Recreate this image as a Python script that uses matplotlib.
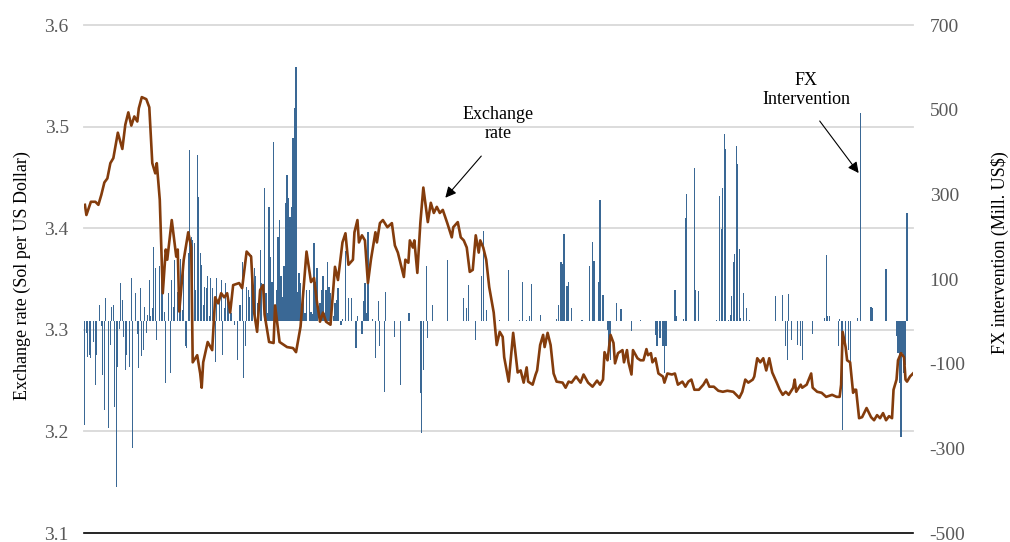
import matplotlib
matplotlib.use("Agg")
import matplotlib.pyplot as plt

# ---------------- data ----------------
rate_day = [0, 1, 4, 7, 9, 11, 13, 15, 17, 19, 22, 25, 27, 29, 31, 33, 35, 36, 38, 41, 43, 45, 47, 48, 50,
            52, 54, 55, 58, 61, 62, 63, 66, 69, 71, 72, 75, 77, 78, 79, 82, 85, 87, 89, 91, 93, 95, 97, 99,
            103, 105, 108, 111, 113, 115, 117, 119, 120, 123, 126, 127, 130, 135, 139, 141, 144, 148, 151,
            153, 155, 157, 159, 161, 164, 167, 169, 172, 174, 176, 179, 180, 182, 183, 185, 187, 189, 191,
            194, 195, 197, 199, 202, 205, 207, 209, 211, 213, 214, 216, 217, 219, 220, 222, 224, 226, 229,
            231, 233, 235, 237, 239, 242, 245, 246, 249, 251, 253, 255, 257, 259, 261, 263, 264, 266, 268,
            270, 273, 275, 277, 279, 280, 283, 286, 289, 291, 293, 295, 296, 299, 301, 302, 304, 306, 307,
            309, 311, 313, 315, 319, 321, 323, 325, 328, 331, 333, 336, 339, 342, 344, 346, 347, 349, 351,
            353, 354, 356, 359, 360, 362, 363, 365, 366, 369, 371, 373, 375, 376, 378, 379, 381, 383, 386,
            387, 389, 392, 394, 396, 399, 401, 403, 405, 407, 410, 413, 415, 417, 420, 423, 426, 429, 433,
            435, 437, 439, 441, 443, 446, 447, 449, 451, 453, 455, 457, 459, 462, 464, 466, 468, 470, 473,
            474, 475, 478, 479, 482, 485, 486, 489, 492, 495, 499, 502, 504, 505, 506, 508, 509, 511, 513,
            514, 515, 517, 519, 522, 525, 527, 529, 531, 533, 535, 537, 539, 540, 542, 543, 545, 547, 548,
            549, 551, 553]
rate_value = [3.423, 3.413, 3.426, 3.426, 3.423, 3.433, 3.445, 3.449, 3.464, 3.469, 3.494, 3.478, 3.502,
              3.514, 3.501, 3.510, 3.505, 3.518, 3.529, 3.527, 3.519, 3.464, 3.454, 3.464, 3.428, 3.336,
              3.379, 3.369, 3.408, 3.372, 3.379, 3.318, 3.369, 3.396, 3.381, 3.268, 3.275, 3.257, 3.243,
              3.268, 3.288, 3.280, 3.332, 3.326, 3.336, 3.332, 3.336, 3.317, 3.344, 3.346, 3.341, 3.377,
              3.372, 3.317, 3.298, 3.339, 3.344, 3.315, 3.288, 3.287, 3.324, 3.288, 3.283, 3.282, 3.278,
              3.303, 3.377, 3.347, 3.351, 3.327, 3.308, 3.317, 3.308, 3.305, 3.362, 3.349, 3.386, 3.395,
              3.364, 3.369, 3.396, 3.408, 3.386, 3.393, 3.388, 3.346, 3.369, 3.396, 3.386, 3.405, 3.408,
              3.401, 3.405, 3.383, 3.376, 3.364, 3.352, 3.369, 3.366, 3.388, 3.381, 3.388, 3.356, 3.405,
              3.440, 3.406, 3.425, 3.415, 3.421, 3.415, 3.418, 3.405, 3.391, 3.401, 3.406, 3.391, 3.388,
              3.381, 3.357, 3.359, 3.393, 3.376, 3.388, 3.381, 3.369, 3.342, 3.317, 3.285, 3.298, 3.293,
              3.273, 3.249, 3.297, 3.258, 3.260, 3.248, 3.263, 3.249, 3.246, 3.256, 3.260, 3.285, 3.295,
              3.283, 3.297, 3.285, 3.257, 3.249, 3.248, 3.243, 3.249, 3.248, 3.254, 3.248, 3.256, 3.248,
              3.244, 3.250, 3.246, 3.251, 3.278, 3.270, 3.295, 3.287, 3.267, 3.277, 3.280, 3.268, 3.280,
              3.268, 3.256, 3.280, 3.272, 3.270, 3.270, 3.281, 3.275, 3.277, 3.268, 3.272, 3.257, 3.254,
              3.248, 3.257, 3.256, 3.257, 3.246, 3.249, 3.244, 3.249, 3.251, 3.241, 3.241, 3.246, 3.251,
              3.244, 3.244, 3.240, 3.239, 3.240, 3.239, 3.236, 3.233, 3.239, 3.251, 3.248, 3.251, 3.254,
              3.272, 3.268, 3.272, 3.260, 3.272, 3.258, 3.248, 3.241, 3.236, 3.239, 3.236, 3.243, 3.251,
              3.239, 3.246, 3.243, 3.246, 3.257, 3.243, 3.239, 3.238, 3.234, 3.236, 3.234, 3.234, 3.246,
              3.298, 3.283, 3.270, 3.268, 3.238, 3.241, 3.241, 3.213, 3.214, 3.223, 3.214, 3.211, 3.216,
              3.213, 3.218, 3.211, 3.215, 3.213, 3.241, 3.251, 3.270, 3.277, 3.273, 3.251, 3.249, 3.254,
              3.257]

fx_day = [0, 1, 2, 3, 4, 6, 7, 8, 10, 11, 12, 13, 14, 16, 17, 18, 19, 20, 21, 22, 23, 24, 25, 26, 27, 28,
          30, 31, 32, 34, 35, 36, 37, 38, 39, 40, 41, 42, 43, 44, 45, 46, 47, 48, 50, 51, 52, 53, 54, 56,
          57, 58, 59, 60, 62, 63, 64, 65, 66, 67, 68, 69, 70, 71, 72, 73, 74, 75, 76, 77, 78, 79, 80, 81,
          82, 83, 84, 85, 86, 87, 88, 90, 91, 92, 93, 94, 95, 96, 97, 98, 100, 102, 103, 104, 105, 106,
          107, 108, 109, 110, 111, 112, 113, 114, 115, 116, 117, 118, 120, 121, 122, 123, 124, 125, 126,
          127, 128, 129, 130, 131, 132, 133, 134, 135, 136, 137, 138, 139, 140, 141, 142, 143, 144, 145,
          146, 147, 148, 150, 151, 152, 153, 154, 155, 157, 158, 159, 160, 161, 162, 163, 164, 166, 167,
          168, 169, 171, 172, 174, 176, 178, 181, 182, 185, 186, 187, 188, 189, 192, 194, 196, 197, 200,
          201, 207, 211, 216, 217, 224, 225, 226, 228, 229, 232, 242, 253, 255, 256, 261, 265, 266, 268,
          277, 283, 290, 292, 295, 297, 298, 304, 315, 316, 318, 319, 320, 322, 323, 325, 332, 337, 339,
          340, 343, 344, 346, 349, 350, 351, 355, 358, 365, 371, 381, 382, 384, 386, 387, 388, 394, 395,
          400, 401, 402, 407, 408, 410, 422, 424, 425, 426, 427, 428, 430, 431, 432, 433, 434, 435, 436,
          437, 438, 440, 442, 444, 461, 466, 468, 469, 470, 472, 476, 478, 479, 486, 494, 495, 496, 497,
          503, 504, 505, 506, 508, 510, 511, 516, 518, 525, 526, 535, 542, 543, 544, 545, 546, 547, 548,
          549]
fx_value = [-245, -28, -84, -80, -87, -49, -150, -80, 38, -10, -127, -210, 55, -252, -56, 35, 38, -203,
            -392, -108, -19, 90, 50, -37, -115, -80, -108, 102, -300, 66, -31, -111, 78, -83, -67, 35,
            -28, 15, 98, 12, 31, 176, 126, -45, 130, 114, 106, 22, -146, 66, -122, 98, 35, 145, 70, 27,
            147, 27, 145, -59, -63, 161, 404, 200, 192, 184, 74, 393, 294, 161, 134, 38, 82, 78, 106, 12,
            102, 78, 22, -95, 102, 50, 98, -80, 31, 90, 58, 35, 19, 19, -9, -91, 38, 38, 140, -134, -59,
            82, 74, 58, 157, 55, 126, 106, 43, 47, 169, 90, 315, 66, 19, 270, 153, 94, 424, 38, 74, 200,
            239, 106, 58, 130, 280, 346, 291, 247, 270, 432, 503, 600, 70, 114, 90, 19, 66, 19, 74, 74,
            22, 18, 184, 94, 126, 43, 74, 106, 19, 74, 140, 82, 66, 12, 43, 50, 78, -9, 5, 165, 55, 55,
            -63, 12, -30, 47, 90, 19, 211, 5, -87, 47, -59, -166, 70, -37, -150, 19, 19, -169, -264,
            -115, 130, -39, 38, 145, 55, 31, 86, -45, 106, 214, 27, 3, 122, 3, 94, 3, 12, 89, 15, 5, 38,
            140, 135, 207, 84, 94, 31, 3, 130, 188, 142, 92, 287, 62, -20, -60, -91, 43, 28, -22, 3, -33,
            -59, -39, -59, -122, -59, 74, 12, 5, 243, 300, 362, 75, 72, 3, 296, 219, 316, 442, 406, 3,
            15, 60, 140, 160, 414, 372, 172, 8, 66, 31, 3, 60, 62, -59, -91, 64, -45, -56, -59, -91, -31,
            8, 157, 12, 12, -59, 5, -59, -257, -49, -67, -102, 8, 492, 35, 31, 123, -34, -75, -146, -273,
            -75, -122, -102, 255]

left_ticks = [3.1, 3.2, 3.3, 3.4, 3.5, 3.6]
right_ticks = [-500, -300, -100, 100, 300, 500, 700]
left_label = "Exchange rate (Sol per US Dollar)"
right_label = "FX intervention (Mill. US$)"

# ---------------- styling ----------------
FONT = "Liberation Serif"
plt.rcParams["font.family"] = [FONT, "DejaVu Serif"]
LINE_C = "#843C0C"
BAR_C = "#3A6895"
GRID_C = "#D9D9D9"
TICK_C = "#595959"

fig = plt.figure(figsize=(10.1, 5.42), dpi=100)
ax = fig.add_axes([84 / 1010, 9 / 542, 829 / 1010, 508 / 542])
ax2 = ax.twinx()

# bars (right axis) behind line
ax2.bar(fx_day, fx_value, width=0.8, color=BAR_C, linewidth=0, zorder=2)
ax2.set_ylim(-500, 700)
ax2.set_yticks(right_ticks)
ax2.set_yticklabels([str(t) for t in right_ticks])

# gridlines at left-axis ticks, drawn under bars
for t in left_ticks[1:]:
    ax2.plot([0, 1], [t, t], transform=ax.get_yaxis_transform(), color=GRID_C,
             lw=1.3, zorder=1, clip_on=False)

# line (left axis) on top
ax.set_zorder(ax2.get_zorder() + 1)
ax.patch.set_visible(False)
ax.plot(rate_day, rate_value, color=LINE_C, lw=1.9, zorder=3, solid_joinstyle="round")
ax.set_ylim(3.1, 3.6)
ax.set_xlim(-0.6, 553)
ax.set_yticks(left_ticks)
ax.set_yticklabels(["%.1f" % t for t in left_ticks])
ax.set_xticks([])

for a in (ax, ax2):
    for s in a.spines.values():
        s.set_visible(False)
ax.spines["bottom"].set_visible(True)
ax.spines["bottom"].set_color("black")
ax.spines["bottom"].set_linewidth(1.2)

ax.tick_params(axis="y", length=0, labelcolor=TICK_C, labelsize=14, pad=11)
ax2.tick_params(axis="y", length=0, labelcolor=TICK_C, labelsize=14, pad=12)

ax.set_ylabel(left_label, fontsize=13, color="black", va="center", ha="center")
ax.yaxis.set_label_coords(-0.0748, 0.506)
ax2.set_ylabel(right_label, fontsize=13, color="black", rotation=90, va="center", ha="center")
ax2.yaxis.set_label_coords(1.105, 0.551)

# annotations
arrow = dict(arrowstyle="-|>", color="black", lw=0.8, mutation_scale=16, shrinkA=0, shrinkB=0)
ax.annotate("", xy=(240.7, 3.430), xytext=(264.7, 3.471), arrowprops=arrow, zorder=5)
ax.text(276, 3.503, "Exchange\nrate", ha="center", va="center", fontsize=13,
        multialignment="center", linespacing=1.15, zorder=5)
ax.annotate("", xy=(516.7, 3.4543), xytext=(490.7, 3.5055), arrowprops=arrow, zorder=5)
ax.text(481.8, 3.536, "FX\nIntervention", ha="center", va="center", fontsize=13,
        multialignment="center", linespacing=1.15, zorder=5)

fig.savefig("out.png", dpi=100)
